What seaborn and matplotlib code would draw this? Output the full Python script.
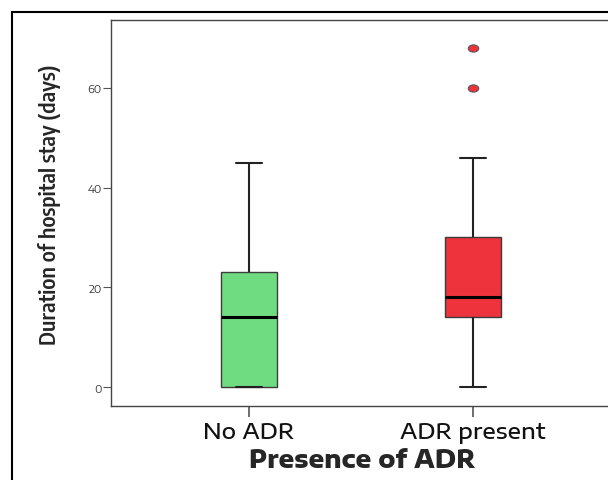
import seaborn as sns
import matplotlib.pyplot as plt
import pandas as pd
from matplotlib.patches import Rectangle
from matplotlib.path import Path
from matplotlib.transforms import Affine2D

# values (days); repeated values pin the quartiles
groups = ["No ADR", "ADR present"]
no_adr_days = [0, 0, 0, 14, 23, 23, 45]
adr_days = [0, 14, 14, 14, 18, 18, 18, 18, 18, 30, 46, 60, 68]
box_colors = ["#6fdc82", "#ef333c"]
y_ticks = [0, 20, 40, 60]

df = pd.DataFrame({
    "group": [groups[0]] * len(no_adr_days) + [groups[1]] * len(adr_days),
    "days": no_adr_days + adr_days,
})

sns.set_style("white")
wide = ["Encode Sans Expanded", "DejaVu Sans"]
narrow = ["Encode Sans Condensed", "DejaVu Sans"]
plt.rcParams["font.family"] = wide

# the original is stretched sideways, so the outliers are flat ellipses
flat_dot = Path.unit_circle().transformed(Affine2D().scale(1.45, 1.0))

fig = plt.figure(figsize=(6.08, 4.81), dpi=100)
ax = fig.add_axes([111 / 608, 1 - 407 / 481, 503 / 608, (407 - 21) / 481])

sns.boxplot(data=df, x="group", y="days", hue="group", order=groups,
            palette=box_colors, saturation=1, legend=False, width=0.25,
            capwidths=0.116, whis=1.5, ax=ax,
            boxprops=dict(edgecolor="#3c3c3c", linewidth=1.0),
            medianprops=dict(color="black", linewidth=2.2),
            whiskerprops=dict(color="#222222", linewidth=1.5),
            capprops=dict(color="#222222", linewidth=1.5),
            flierprops=dict(marker=flat_dot, markerfacecolor="#ef333c",
                            markeredgecolor="#555555", markersize=7.5,
                            markeredgewidth=0.8))

ax.set_xlim(-0.616, 1.63)
ax.set_ylim(-3.8, 73.6)
ax.set_yticks(y_ticks)
ax.set_yticklabels([str(t) for t in y_ticks], fontsize=7.5, color="#333333")
ax.tick_params(axis="y", direction="out", length=6, width=0.8, color="#555555", pad=0.5, left=True)
ax.tick_params(axis="x", direction="out", length=8, width=1.2, color="#555555", pad=2.5,
               labelsize=16, bottom=True)
for lbl in ax.get_xticklabels():
    lbl.set_fontweight(500)
    lbl.set_color("#111111")

for side in ["left", "top", "bottom"]:
    ax.spines[side].set_color("#444444")
    ax.spines[side].set_linewidth(1.0)
ax.spines["right"].set_visible(False)

ax.set_xlabel("Presence of ADR", fontsize=17.5, fontweight=800, labelpad=3)
ax.set_ylabel("Duration of hospital stay (days)", fontsize=16, fontweight=600,
              family=narrow)
ax.yaxis.set_label_coords(-50 / 503, (407 - 205) / 386)

# outer frame, running off the right and bottom edges
fig.patches.append(Rectangle((12 / 608, -0.05), 1.0, 1 - 13 / 481 + 0.05,
                             transform=fig.transFigure, fill=False,
                             edgecolor="black", linewidth=1.5))

fig.savefig("out.png", dpi=100)
